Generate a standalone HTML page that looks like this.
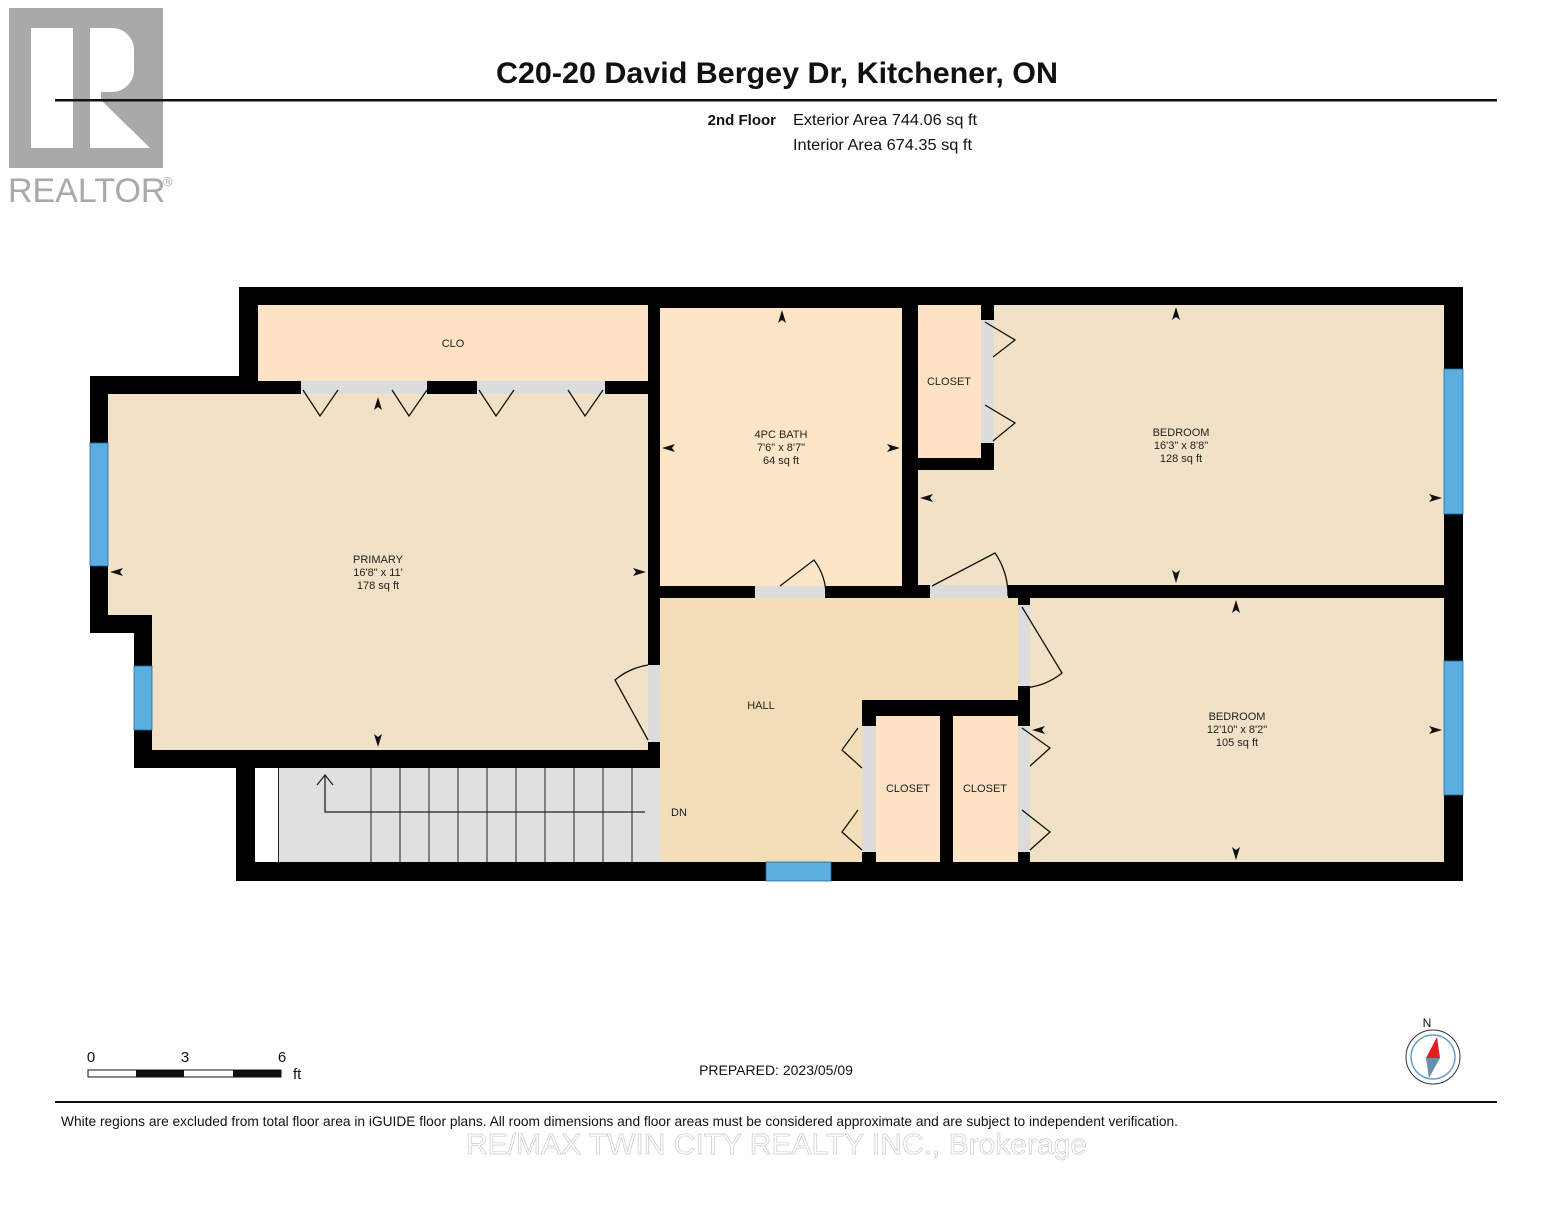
<!DOCTYPE html>
<html><head><meta charset="utf-8"><style>
html,body{margin:0;padding:0;background:#fff;}
svg text{font-family:"Liberation Sans",Arial,sans-serif;}
</style></head><body>
<svg width="1553" height="1200" viewBox="0 0 1553 1200" xmlns="http://www.w3.org/2000/svg">
<rect width="1553" height="1200" fill="#fff"/>
<!-- Realtor logo -->
<rect x="9" y="8" width="154" height="160" fill="#a9a9a9"/>
<rect x="31" y="28" width="42" height="120" fill="#fff"/>
<path d="M90 28 H112 A22 22 0 0 1 134 50 V70 A22 22 0 0 1 112 92 H101 V148 H90 Z" fill="#fff"/>
<path d="M101 100 L150 148 H101 Z" fill="#fff"/>
<text x="8" y="202" font-size="34" fill="#a9a9a9">REALTOR</text>
<text x="163" y="186" font-size="13" fill="#a9a9a9">®</text>
<!-- header -->
<text x="496" y="83" font-size="30" font-weight="bold" fill="#111" textLength="562" lengthAdjust="spacingAndGlyphs">C20-20 David Bergey Dr, Kitchener, ON</text>
<rect x="55" y="99" width="1442" height="2.5" fill="#111"/>
<text x="776" y="125" font-size="15" font-weight="bold" text-anchor="end" fill="#111">2nd Floor</text>
<text x="793" y="125" font-size="15.5" fill="#111" textLength="184" lengthAdjust="spacingAndGlyphs">Exterior Area 744.06 sq ft</text>
<text x="793" y="150" font-size="15.5" fill="#111" textLength="179" lengthAdjust="spacingAndGlyphs">Interior Area 674.35 sq ft</text>

<!-- floor plan -->
<path d="M239 287 H1463 V881 H236 V768 H134 V633 H90 V376 H239 Z" fill="#000"/>
<rect x="258" y="305" width="390" height="76" fill="#fde3c4"/>
<path d="M108 394 H648 V750 H152 V615 H108 Z" fill="#f1e1c6"/>
<rect x="301" y="381" width="126" height="13" fill="#dcdcdc"/>
<rect x="477" y="381" width="128" height="13" fill="#dcdcdc"/>
<rect x="660" y="308" width="242" height="278" fill="#fde6c8"/>
<rect x="918" y="305" width="63" height="153" fill="#fde3c4"/>
<path d="M994 305 H1444 V585 H918 V470 H994 Z" fill="#f1e1c6"/>
<path d="M660 598 H1018 V700 H862 V862 H660 Z" fill="#f2deb8"/>
<rect x="876" y="716" width="64" height="146" fill="#fde3c4"/>
<rect x="953" y="716" width="65" height="146" fill="#fde3c4"/>
<rect x="1030" y="598" width="414" height="264" fill="#f1e1c6"/>
<rect x="255" y="768" width="405" height="94" fill="#fff"/>
<rect x="278" y="768" width="382" height="94" fill="#e0e0e0"/>
<g stroke="#222" stroke-width="1">
<line x1="278.5" y1="768" x2="278.5" y2="862"/><line x1="371" y1="768" x2="371" y2="862"/><line x1="400" y1="768" x2="400" y2="862"/><line x1="429" y1="768" x2="429" y2="862"/><line x1="458" y1="768" x2="458" y2="862"/><line x1="487" y1="768" x2="487" y2="862"/><line x1="516" y1="768" x2="516" y2="862"/><line x1="545" y1="768" x2="545" y2="862"/><line x1="574" y1="768" x2="574" y2="862"/><line x1="603" y1="768" x2="603" y2="862"/><line x1="632" y1="768" x2="632" y2="862"/>
</g>
<path d="M645 812 H325 V775 M317 785 L325 775 L333 785" fill="none" stroke="#222" stroke-width="1.3"/>
<!-- door gaps -->
<g fill="#dcdcdc">
<rect x="755" y="586" width="70" height="12"/>
<rect x="930" y="585" width="78" height="13"/>
<rect x="1018" y="605" width="12" height="81"/>
<rect x="648" y="665" width="12" height="77"/>
<rect x="862" y="726" width="14" height="126"/>
<rect x="1018" y="726" width="12" height="126"/>
<rect x="981" y="320" width="13" height="123"/>
</g>
<!-- windows -->
<g fill="#5aaee0" stroke="#1f6ea0" stroke-width="0.8">
<rect x="90" y="443" width="18" height="123"/>
<rect x="134" y="666" width="18" height="64"/>
<rect x="1444" y="369" width="19" height="145"/>
<rect x="1444" y="661" width="19" height="134"/>
<rect x="766" y="862" width="65" height="19"/>
</g>
<!-- door swings -->
<g fill="none" stroke="#111" stroke-width="1.3">
<path d="M303 390 L320 416 L338 390 M392 390 L409 416 L427 390 M479 390 L496 416 L514 390 M568 390 L585 416 L603 390"/>
<path d="M985 322 L1015 340 L993 357 M985 405 L1015 423 L993 441"/>
<path d="M858 728 L842 750 L862 768 M858 810 L842 832 L862 850"/>
<path d="M1022 728 L1050 748 L1030 766 M1022 810 L1050 832 L1030 850"/>
<path d="M648 740 L615 680 A68 68 0 0 1 648 665"/>
<path d="M1022 607 L1062 673 A68 68 0 0 1 1022 688"/>
<path d="M780 586 L814 560 A60 60 0 0 1 826 596"/>
<path d="M932 586 L995 553 A75 75 0 0 1 1008 596"/>
</g>
<!-- dimension arrows -->
<g fill="#111">
<path d="M378 397 l-4 13 l4 -3 l4 3 Z"/>
<path d="M378 747 l-4 -13 l4 3 l4 -3 Z"/>
<path d="M110 572 l13 -4 l-3 4 l3 4 Z"/>
<path d="M646 572 l-13 -4 l3 4 l-3 4 Z"/>
<path d="M782 310 l-4 13 l4 -3 l4 3 Z"/>
<path d="M662 448 l13 -4 l-3 4 l3 4 Z"/>
<path d="M900 448 l-13 -4 l3 4 l-3 4 Z"/>
<path d="M1176 307 l-4 13 l4 -3 l4 3 Z"/>
<path d="M1176 583 l-4 -13 l4 3 l4 -3 Z"/>
<path d="M920 498 l13 -4 l-3 4 l3 4 Z"/>
<path d="M1442 498 l-13 -4 l3 4 l-3 4 Z"/>
<path d="M1236 600 l-4 13 l4 -3 l4 3 Z"/>
<path d="M1236 860 l-4 -13 l4 3 l4 -3 Z"/>
<path d="M1032 730 l13 -4 l-3 4 l3 4 Z"/>
<path d="M1442 730 l-13 -4 l3 4 l-3 4 Z"/>
</g>
<!-- labels -->
<g font-size="11" fill="#222" text-anchor="middle">
<text x="453" y="347">CLO</text>
<text x="378" y="563">PRIMARY</text><text x="378" y="576">16'8" x 11'</text><text x="378" y="589">178 sq ft</text>
<text x="781" y="438">4PC BATH</text><text x="781" y="451">7'6" x 8'7"</text><text x="781" y="464">64 sq ft</text>
<text x="949" y="385">CLOSET</text>
<text x="1181" y="436">BEDROOM</text><text x="1181" y="449">16'3" x 8'8"</text><text x="1181" y="462">128 sq ft</text>
<text x="761" y="709">HALL</text>
<text x="679" y="816">DN</text>
<text x="908" y="792">CLOSET</text>
<text x="985" y="792">CLOSET</text>
<text x="1237" y="720">BEDROOM</text><text x="1237" y="733">12'10" x 8'2"</text><text x="1237" y="746">105 sq ft</text>
</g>
<!-- scale bar -->
<text x="91" y="1062" font-size="15" text-anchor="middle" fill="#111">0</text>
<text x="185" y="1062" font-size="15" text-anchor="middle" fill="#111">3</text>
<text x="282" y="1062" font-size="15" text-anchor="middle" fill="#111">6</text>
<text x="293" y="1079" font-size="15" fill="#111">ft</text>
<rect x="88" y="1070" width="193" height="7" fill="#fff" stroke="#111" stroke-width="1"/>
<rect x="136" y="1070" width="48" height="7" fill="#111"/>
<rect x="233" y="1070" width="48" height="7" fill="#111"/>
<text x="776" y="1075" font-size="14" text-anchor="middle" fill="#111">PREPARED: 2023/05/09</text>
<!-- compass -->
<text x="1427" y="1027" font-size="12" text-anchor="middle" fill="#111">N</text>
<circle cx="1433" cy="1057" r="27" fill="#fff" stroke="#333" stroke-width="1"/>
<circle cx="1433" cy="1057" r="22" fill="#fff" stroke="#6aa0d0" stroke-width="1.5"/>
<path d="M1437 1037 L1440 1058 L1426 1058 Z" fill="#e02020"/>
<path d="M1426 1058 L1440 1058 L1429 1078 Z" fill="#6a8cb0"/>
<!-- footer -->
<rect x="55" y="1101" width="1442" height="2" fill="#111"/>
<text x="61" y="1126" font-size="13.7" fill="#111" textLength="1117" lengthAdjust="spacingAndGlyphs">White regions are excluded from total floor area in iGUIDE floor plans. All room dimensions and floor areas must be considered approximate and are subject to independent verification.</text>
<text x="466" y="1154" font-size="29" fill="#fff" stroke="#ccc" stroke-width="0.7" textLength="621" lengthAdjust="spacingAndGlyphs">RE/MAX TWIN CITY REALTY INC., Brokerage</text>
</svg>
</body></html>
